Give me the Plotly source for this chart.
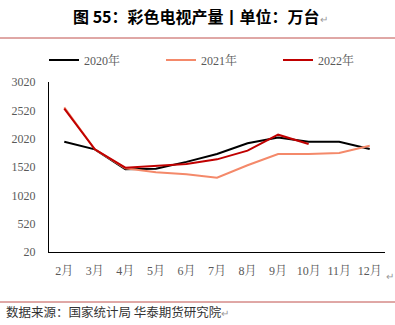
import plotly.graph_objects as go

months = ["2月", "3月", "4月", "5月", "6月", "7月", "8月", "9月", "10月", "11月", "12月"]
y2020 = [1967, 1832, 1479, 1490, 1610, 1750, 1938, 2040, 1967, 1967, 1838]
y2021 = [2573, 1832, 1497, 1426, 1390, 1332, 1550, 1750, 1750, 1767, 1896]
y2022 = [2550, 1832, 1508, 1538, 1575, 1655, 1808, 2090, 1926]
series_names = ["2020年", "2021年", "2022年"]
series_colors = ["#000000", "#F4896A", "#C00000"]
yticks = [20, 520, 1020, 1520, 2020, 2520, 3020]

W, H = 395, 325
l, r, t, b = 49, 10, 82, 73
pw, ph = W - l - r, H - t - b
def px(x):
    return (x - l) / pw
def py(y):
    return (H - b - y) / ph

tick_font = dict(family="Liberation Serif, Noto Serif CJK SC, Noto Sans CJK SC", size=12, color="#595959")

fig = go.Figure()
for name, vals, col in zip(series_names, [y2020, y2021, y2022], series_colors):
    fig.add_trace(go.Scatter(x=months[:len(vals)], y=vals, mode="lines", name=name,
                             line=dict(color=col, width=2)))

fig.update_layout(
    width=W, height=H,
    margin=dict(l=l, r=r, t=t, b=b),
    paper_bgcolor="white", plot_bgcolor="white",
    showlegend=True,
    legend=dict(orientation="h", x=px(46), y=py(60), xanchor="left", yanchor="middle",
                entrywidth=72, entrywidthmode="pixels", itemwidth=30,
                font=dict(family="Liberation Serif, Noto Serif CJK SC", size=12, color="#595959"),
                bgcolor="rgba(0,0,0,0)"),
    xaxis=dict(type="category", range=[-0.5, 10.5], showgrid=False, showline=True,
               linecolor="#000000", linewidth=1, ticks="", tickfont=tick_font,
               ticklabelstandoff=8, fixedrange=True),
    yaxis=dict(range=[20, 3020], tickvals=yticks, showgrid=False, showline=True,
               linecolor="#000000", linewidth=1, ticks="", tickfont=tick_font,
               ticklabelstandoff=10, zeroline=False, fixedrange=True),
    annotations=[
        dict(text="<b>图 55：彩色电视产量丨单位：万台</b><span style='font-size:10px;color:#999999'>↵</span>",
             xref="paper", yref="paper",
             x=px(200), y=py(16), yanchor="middle", xanchor="center", showarrow=False,
             font=dict(family="Noto Sans CJK SC", size=16, color="#000000")),
        dict(text="数据来源：国家统计局 华泰期货研究院<span style='font-size:10px;color:#999999'>↵</span>",
             xref="paper", yref="paper",
             x=px(4), y=py(311), xanchor="left", yanchor="middle", showarrow=False,
             font=dict(family="Noto Sans CJK SC", size=12.5, color="#333333")),
        dict(text="↵", xref="paper", yref="paper", x=px(390), y=py(275),
             xanchor="center", yanchor="middle", showarrow=False,
             font=dict(family="Noto Sans CJK SC", size=10, color="#999999")),
    ],
    shapes=[
        dict(type="line", xref="paper", yref="paper", x0=px(0), x1=px(395), y0=py(38), y1=py(38),
             line=dict(color="#C0504D", width=1)),
        dict(type="line", xref="paper", yref="paper", x0=px(0), x1=px(395), y0=py(302), y1=py(302),
             line=dict(color="#C0504D", width=1)),
    ],
)

fig.write_html("out.html")
